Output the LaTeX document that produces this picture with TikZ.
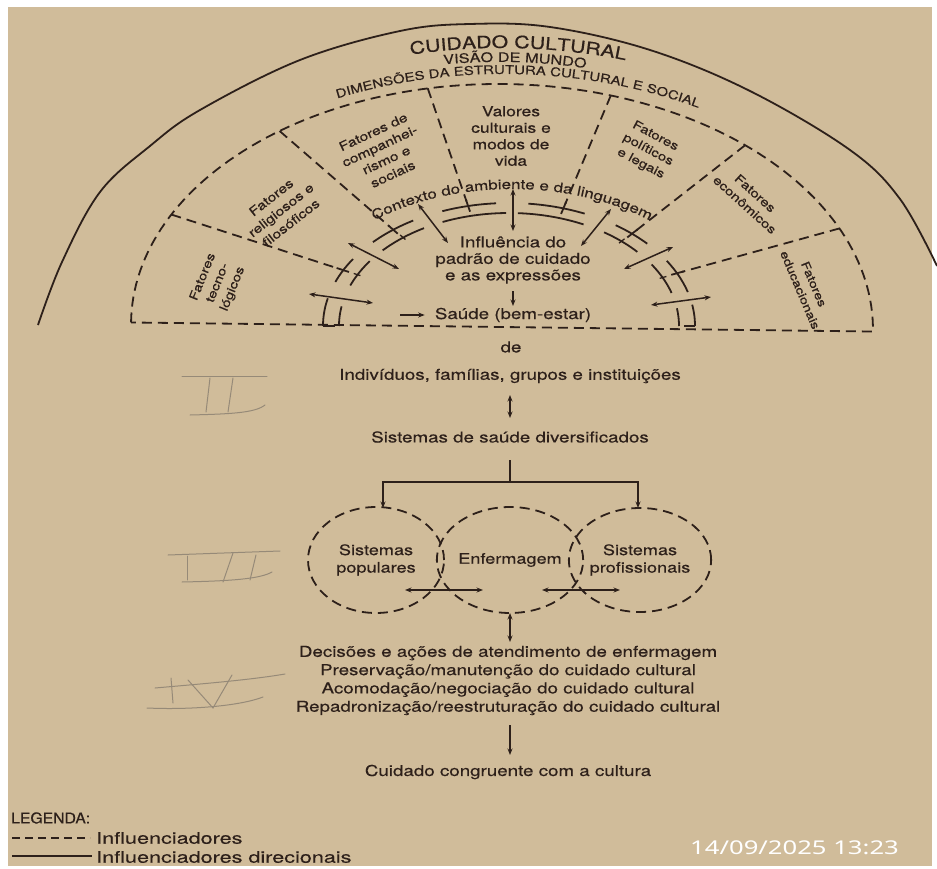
\documentclass[tikz,border=0pt]{standalone}
\usepackage{fontspec}
\setmainfont{TeX Gyre Heros}[FakeStretch=1.25,FakeBold=0.4]
\newfontfamily\legfont{TeX Gyre Heros}[FakeStretch=1.05,FakeBold=0.3]
\newfontfamily\legitemfont{TeX Gyre Heros}[FakeStretch=1.35,FakeBold=0.3]
\newfontfamily\stampfont{Noto Sans}[FakeStretch=1.35]
\usetikzlibrary{arrows.meta,decorations.text,calc,shapes.geometric}
\definecolor{paper}{RGB}{208,188,154}
\definecolor{ink}{RGB}{45,32,26}
\definecolor{pencil}{RGB}{150,138,120}
\newcommand\oseg[2]{\draw[inkline] plot[domain=#1:#2,samples=24] ({509+186*cos(\x)},{326-123*sin(\x)});}
\newcommand\iseg[2]{\draw[inkline] plot[domain=#1:#2,samples=24] ({509+170*cos(\x)},{326-113*sin(\x)});}
\begin{document}
\begin{tikzpicture}[x=1pt,y=-1pt,
  inkline/.style={draw=ink,line width=1.8pt},
  dashline/.style={draw=ink,line width=1.8pt,dash pattern=on 10pt off 6pt},
  dbl/.style={draw=ink,line width=1.5pt,{Stealth[length=6.5pt,width=5pt]}-{Stealth[length=6.5pt,width=5pt]}},
  one/.style={draw=ink,line width=1.5pt,-{Stealth[length=6.5pt,width=5pt]}},
  lbl/.style={text=ink,inner sep=0pt,align=center,font=\fontsize{15}{18.3}\selectfont},
  sect/.style={text=ink,inner sep=0pt,align=center},
  ell/.style={ellipse,draw=ink,line width=1.8pt,dash pattern=on 10pt off 6pt,text=ink,align=center,inner sep=0pt,font=\fontsize{14.5}{17.5}\selectfont},
  pen/.style={draw=pencil,line width=1pt,line cap=round}]
\useasboundingbox (0,0) rectangle (937,869);
\fill[white] (0,0) rectangle (937,869);
\fill[paper] (8,7) rectangle (932,866);

% outer solid arc
\draw[inkline] plot[smooth,tension=0.6] coordinates {(38,325) (62,262) (100,192) (150,146) (200,110) (300,60) (400,31) (470,24) (550,27) (650,50) (750,91) (850,150) (900,199) (937,266)};

% curved headings
\begin{scope}[rotate around={-1.5:(511,327)}]
\path[decorate,decoration={text along path,text align=center,text color=ink,
  text={|\fontsize{17}{17}\selectfont|CUIDADO CULTURAL}}]
  plot[domain=160:20,samples=90] ({511+420*cos(\x)},{328-280*sin(\x)});
\path[decorate,decoration={text along path,text align=center,text color=ink,
  text={|\fontsize{13}{13}\selectfont|VISÃO DE MUNDO}}]
  plot[domain=160:20,samples=90] ({508+400*cos(\x)},{327-265*sin(\x)});
\path[decorate,decoration={text along path,text align=center,text color=ink,
  text={|\fontsize{12}{12}\selectfont|DIMENSÕES DA ESTRUTURA CULTURAL E SOCIAL}}]
  plot[domain=165:15,samples=120] ({512+388*cos(\x)},{327-253*sin(\x)});
\end{scope}

% dashed dimension frame
\begin{scope}[rotate around={-0.7:(502,327)}]
\draw[dashline] plot[domain=180:0,samples=120] ({502+371*cos(\x)},{327-243*sin(\x)}) -- cycle;
\foreach \n/\t in {1/153.5,2/127.3,3/102,4/73.4,5/49.5,6/25}
  {\coordinate (T\n) at ({502+371*cos(\t)},{327-243*sin(\t)});}
\end{scope}

% ring points
\foreach \n/\t in {1/153,2/128.5,3/102.7,4/73,5/48.6,6/25.4}
  {\coordinate (P\n) at ({509+186*cos(\t)},{326-123*sin(\t)});
   \coordinate (Q\n) at ({509+170*cos(\t)},{326-113*sin(\t)});}
\foreach \n in {1,...,6}
  {\draw[dashline] (T\n) -- ($(P\n)!5pt!(T\n)$);
   \draw[inkline] ($(P\n)!7pt!(T\n)$) -- ($(P\n)!-6pt!(T\n)$);}
\foreach \n in {1,2,5,6}
  {\draw[inkline,line width=1.3pt] ($(Q\n)!4pt!(T\n)$) -- ($(Q\n)!-3pt!(T\n)$);}

% double ring segments
\oseg{180}{167}\oseg{159}{147}\oseg{137}{121}\oseg{111}{94}
\oseg{84}{66}\oseg{55}{42}\oseg{32}{16}\oseg{10}{0}
\iseg{180}{170}\iseg{159}{145}\iseg{138}{120}\iseg{113}{91}
\iseg{87}{64}\iseg{56}{41}\iseg{33}{17}\iseg{9}{0}
\coordinate (bl1) at (323,326); \coordinate (bl2) at (335,326);
\coordinate (br1) at (695,326); \coordinate (br2) at (684,326);
\draw[inkline] (bl1) -- (bl2); \draw[inkline] (br1) -- (br2);

% ring arrows
\coordinate (a1s) at (513,189); \coordinate (a1e) at (513,231);
\coordinate (a2s) at (418,204); \coordinate (a2e) at (448,243);
\coordinate (a3s) at (348,243); \coordinate (a3e) at (399,269);
\coordinate (a4s) at (309,294); \coordinate (a4e) at (373,303);
\coordinate (a5s) at (611,209); \coordinate (a5e) at (581,246);
\coordinate (a6s) at (673,247); \coordinate (a6e) at (624,269);
\coordinate (a7s) at (651,305); \coordinate (a7e) at (711,297);
\foreach \n in {1,...,7}{\draw[dbl] (a\n s) -- (a\n e);}

% context text
\path[decorate,decoration={text along path,text align=center,text color=ink,
  text={|\fontsize{13.5}{13.5}\selectfont|Contexto do ambiente e da linguagem}}]
  plot[domain=150:30,samples=90] ({512+216*cos(\x)},{326-137*sin(\x)});

% sector texts
\node[sect,rotate=68,font=\fontsize{12}{16}\selectfont] (tec) at (218,283) {Fatores\\tecno-\\lógicos};
\node[sect,rotate=38,font=\fontsize{12.5}{16}\selectfont] (rel) at (281,210) {Fatores\\religiosos e\\filosóficos};
\node[sect,rotate=25,font=\fontsize{12.5}{15.5}\selectfont] (comp) at (383,153) {Fatores de\\companhei-\\rismo e\\sociais};
\node[sect,font=\fontsize{14}{16.5}\selectfont] (val) at (511,136) {Valores\\culturais e\\modos de\\vida};
\node[sect,rotate=-28,font=\fontsize{12}{15.5}\selectfont] (pol) at (648,150) {Fatores\\políticos\\e legais};
\node[sect,rotate=-42,font=\fontsize{12}{15.5}\selectfont] (eco) at (750,199) {Fatores\\econômicos};
\node[sect,rotate=-67,font=\fontsize{11.5}{15}\selectfont] (edu) at (807,287) {Fatores\\educacionais};

% centre column
\node[lbl,font=\fontsize{15}{16.5}\selectfont] (infl) at (513,260) {Influência do\\padrão de cuidado\\e as expressões};
\node[lbl] (saude) at (513,315) {Saúde (bem-estar)};
\coordinate (dn1) at (513,291); \coordinate (dn2) at (513,306);
\draw[one] (dn1) -- (dn2);
\coordinate (sa0) at (400,315);
\draw[one] (sa0) -- ([xshift=-10pt]saude.west);
\node[lbl] (de) at (511,347) {de};
\node[lbl] (indiv) at (510,376) {Indivíduos, famílias, grupos e instituições};
\node[lbl] (sist) at (510,437) {Sistemas de saúde diversificados};
\coordinate (i1) at (510,395); \coordinate (i2) at (510,418);
\draw[dbl] (i1) -- (i2);

% health systems
\node[ell,minimum width=136pt,minimum height=106pt] (pop) at (376,560) {Sistemas\\populares};
\node[ell,minimum width=144pt,minimum height=106pt] (enf) at (510,560) {Enfermagem};
\node[ell,minimum width=140pt,minimum height=104pt] (prof) at (640,560) {Sistemas\\profissionais};
\coordinate (j0) at (510,460); \coordinate (j) at (510,482);
\draw[inkline] (j0) -- (j);
\draw[inkline,-{Stealth[length=6.5pt,width=5pt]}] (j) -| (383,508);
\draw[inkline,-{Stealth[length=6.5pt,width=5pt]}] (j) -| (638,508);
\coordinate (e1) at (405,590); \coordinate (e2) at (483,590);
\coordinate (e3) at (542,590); \coordinate (e4) at (620,590);
\draw[dbl] (e1) -- (e2); \draw[dbl] (e3) -- (e4);
\coordinate (d1) at (510,613); \coordinate (d2) at (510,642);
\draw[dbl] (d1) -- (d2);

\node[lbl] (dec) at (508,680.5) {Decisões e ações de atendimento de enfermagem\\Preservação/manutenção do cuidado cultural\\Acomodação/negociação do cuidado cultural\\Repadronização/reestruturação do cuidado cultural};
\coordinate (c1) at (510,725); \coordinate (c2) at (510,755);
\draw[one] (c1) -- (c2);
\node[lbl] (cong) at (508,772) {Cuidado congruente com a cultura};

% legend
\node[text=ink,inner sep=0pt,anchor=west,font=\legfont\fontsize{15}{15}\selectfont] (leg) at (11,818) {LEGENDA:};
\coordinate (l1) at (12,838); \coordinate (l2) at (90,838);
\coordinate (l3) at (12,856); \coordinate (l4) at (92,856);
\draw[draw=ink,line width=1.8pt,dash pattern=on 8pt off 5pt] (l1) -- (l2);
\draw[inkline,line width=1.4pt] (l3) -- (l4);
\node[text=ink,inner sep=0pt,anchor=west,font=\legitemfont\fontsize{16}{16}\selectfont] (leg1) at (96,838) {Influenciadores};
\node[text=ink,inner sep=0pt,anchor=west,font=\legitemfont\fontsize{16}{16}\selectfont] (leg2) at (96,857) {Influenciadores direcionais};

% timestamp
\node[text=white,inner sep=0pt,anchor=west,font=\stampfont\fontsize{19}{19}\selectfont] (stamp) at (690,848) {14/09/2025 13:23};

% pencil marks
\draw[pen] (182,376) -- (267,376);
\draw[pen] (190,415) .. controls (230,414) and (255,413) .. (265,405);
\draw[pen] (210,378) -- (206,412);
\draw[pen] (233,378) -- (228,412);
\draw[pen] (168,555) -- (280,551);
\draw[pen] (182,582) .. controls (230,581) and (260,579) .. (272,572);
\draw[pen] (187,556) -- (187,580);
\draw[pen] (233,553) -- (223,582);
\draw[pen] (256,555) -- (250,580);
\draw[pen] (155,688) .. controls (200,684) and (250,680) .. (285,674);
\draw[pen] (147,708) .. controls (190,710) and (240,706) .. (263,697);
\draw[pen] (171,678) -- (173,703);
\draw[pen] (188,680) -- (213,708) -- (232,675);
\end{tikzpicture}
\end{document}
